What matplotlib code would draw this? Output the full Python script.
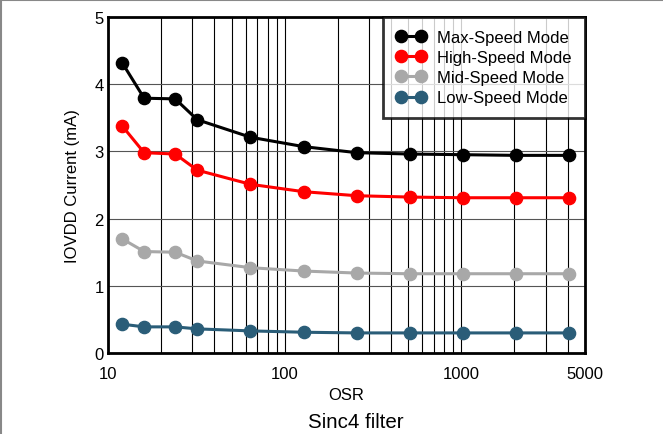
import matplotlib
matplotlib.use("Agg")
import matplotlib.pyplot as plt
from matplotlib.ticker import FixedLocator, FixedFormatter, NullFormatter
from matplotlib.lines import Line2D

plt.rcParams['font.family'] = ['Liberation Sans', 'DejaVu Sans']

# data
osr = [12, 16, 24, 32, 64, 128, 256, 512, 1024, 2048, 4096]
max_speed = [4.32, 3.79, 3.78, 3.47, 3.21, 3.07, 2.98, 2.96, 2.95, 2.94, 2.94]
high_speed = [3.38, 2.98, 2.96, 2.72, 2.51, 2.40, 2.34, 2.32, 2.31, 2.31, 2.31]
mid_speed = [1.70, 1.51, 1.50, 1.37, 1.27, 1.22, 1.19, 1.18, 1.18, 1.18, 1.18]
low_speed = [0.43, 0.39, 0.39, 0.36, 0.33, 0.31, 0.30, 0.30, 0.30, 0.30, 0.30]
x_ticks = [10, 100, 1000, 5000]
x_ticklabels = ['10', '100', '1000', '5000']

series = [
    ("Max-Speed Mode", max_speed, "#000000"),
    ("High-Speed Mode", high_speed, "#ff0000"),
    ("Mid-Speed Mode", mid_speed, "#a8a8a8"),
    ("Low-Speed Mode", low_speed, "#2a5d78"),
]

fig = plt.figure(figsize=(6.63, 4.35), dpi=100)
ax = fig.add_axes([0.163, 0.186, 0.719, 0.773])

for name, vals, col in series:
    ax.plot(osr, vals, color=col, lw=2.2, marker='o', ms=8.8, mew=1,
            label=name, zorder=3)

ax.set_xscale('log')
ax.set_xlim(10, 5000)
ax.set_ylim(0, 5)
ax.xaxis.set_major_locator(FixedLocator(x_ticks))
ax.xaxis.set_major_formatter(FixedFormatter(x_ticklabels))
minor = [m * d for d in (10, 100, 1000) for m in range(2, 10) if m * d < 5000]
ax.xaxis.set_minor_locator(FixedLocator(minor))
ax.xaxis.set_minor_formatter(NullFormatter())
ax.set_yticks([0, 1, 2, 3, 4, 5])

ax.tick_params(axis='both', which='both', length=0, labelsize=12)
ax.tick_params(axis='x', pad=9)
ax.tick_params(axis='y', pad=3)
ax.grid(True, axis='x', which='both', color='black', lw=0.8)
ax.grid(True, axis='y', which='major', color='#555555', lw=0.8)
ax.set_axisbelow(True)
for s in ax.spines.values():
    s.set_linewidth(2)

ax.set_xlabel("OSR", fontsize=12, va='center')
ax.xaxis.set_label_coords(0.5, -0.122)
ax.set_ylabel("IOVDD Current (mA)", fontsize=12, va='center', ha='center')
ax.yaxis.set_label_coords(-0.075, 0.5)

leg = ax.legend(loc='upper right', numpoints=2, fontsize=12, frameon=True,
                fancybox=False, borderaxespad=0, handlelength=1.77,
                labelspacing=0.31, borderpad=0.78, handletextpad=0.68)
leg.get_frame().set_edgecolor('black')
leg.get_frame().set_linewidth(2)
leg.set_zorder(5)

fig.text(0.537, 0.028, "Sinc4 filter", ha='center', va='center', fontsize=14.8)

# thin grey frame at top and left of the figure
fig.add_artist(Line2D([0, 1], [0.998, 0.998], transform=fig.transFigure, color='#888888', lw=1.5))
fig.add_artist(Line2D([0.001, 0.001], [0, 1], transform=fig.transFigure, color='#888888', lw=1.5))

fig.savefig("out.png", dpi=100)
